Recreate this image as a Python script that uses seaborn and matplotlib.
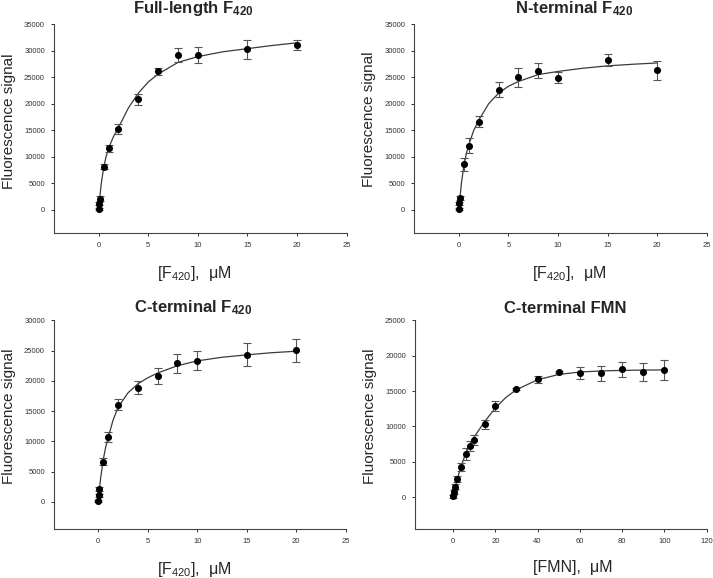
import numpy as np
import pandas as pd
import matplotlib
matplotlib.use("Agg")
import matplotlib.pyplot as plt
import seaborn as sns

# data
x_f420 = [0, 0.05, 0.1, 0.5, 1, 2, 4, 6, 8, 10, 15, 20]

full_y = [130, 1100, 2100, 8100, 11600, 15200, 20800, 26100, 29150, 29150, 30300, 31100]
full_err = [200, 300, 500, 500, 700, 900, 1000, 600, 1300, 1500, 1800, 1000]

nterm_y = [130, 1200, 2200, 8550, 12050, 16600, 22650, 25000, 26250, 24950, 28300, 26300]
nterm_err = [200, 300, 400, 1200, 1400, 1050, 1450, 1750, 1400, 950, 1100, 1850]

cterm_y = [110, 1050, 2150, 6650, 10700, 16050, 18850, 20850, 22950, 23350, 24350, 25050]
cterm_err = [150, 250, 300, 600, 770, 880, 1100, 1350, 1570, 1520, 1870, 1850]

x_fmn = [0, 0.5, 1, 2, 4, 6, 8, 10, 15, 20, 30, 40, 50, 60, 70, 80, 90, 100]
fmn_y = [100, 700, 1500, 2600, 4300, 6100, 7200, 8100, 10300, 12850, 15300, 16650,
         17700, 17550, 17500, 18100, 17700, 17950]
fmn_err = [150, 300, 350, 400, 600, 850, 700, 700, 600, 700, 200, 500,
           200, 800, 1080, 1060, 1220, 1410]

# fitted curves
fit_x_f420 = [0, 0.1, 0.25, 0.5, 0.75, 1, 1.5, 2, 3, 4, 5, 6, 8, 10, 12.5, 15, 17.5, 20]
full_fit = [0, 1900, 4700, 7900, 10000, 11600, 13800, 15500, 19200, 22000, 24100, 25600,
            27800, 28900, 29800, 30400, 31000, 31500]
nterm_fit = [0, 2100, 5000, 8300, 10600, 12300, 15000, 16900, 20000, 22000, 23300, 24200,
             25500, 26100, 26700, 27150, 27450, 27700]
cterm_fit = [0, 1800, 4000, 6900, 9000, 10600, 13500, 15600, 18000, 19500, 20500, 21300,
             22500, 23300, 23900, 24300, 24650, 24900]
fit_x_fmn = [0, 1, 2, 4, 6, 8, 10, 15, 20, 25, 30, 40, 50, 60, 70, 80, 90, 100]
fmn_fit = [0, 1350, 2600, 4500, 6200, 7400, 8500, 10700, 12600, 14100, 15200, 16600,
           17350, 17700, 17850, 17930, 17970, 18000]

sns.set_style("ticks")
plt.rcParams["font.family"] = ["Liberation Sans", "DejaVu Sans"]
plt.rcParams["mathtext.default"] = "regular"

fig = plt.figure(figsize=(7.13, 5.78), dpi=100)

panels = [
    # title, x, y, err, fit x, fit y, xlabel, rect, xlim, ylim, xticks, yticks, title pos, xlabel x, ylabel y
    ("Full-length F$_{420}$", x_f420, full_y, full_err, fit_x_f420, full_fit,
     "[F$_{420}$],  \u03bcM", [0.0757, 0.5969, 0.4105, 0.3611], (-4.5, 25), (-4400, 35000),
     np.arange(0, 26, 5), np.arange(0, 35001, 5000), (0.478, 8), 0.481, 0.537),
    ("N-terminal F$_{420}$", x_f420, nterm_y, nterm_err, fit_x_f420, nterm_fit,
     "[F$_{420}$],  \u03bcM", [0.5811, 0.5969, 0.4101, 0.3611], (-4.5, 25), (-4400, 35000),
     np.arange(0, 26, 5), np.arange(0, 35001, 5000), (0.547, 8), 0.529, 0.545),
    ("C-terminal F$_{420}$", x_f420, cterm_y, cterm_err, fit_x_f420, cterm_fit,
     "[F$_{420}$],  \u03bcM", [0.0757, 0.0848, 0.4091, 0.3609], (-4.47, 25), (-4500, 30000),
     np.arange(0, 26, 5), np.arange(0, 30001, 5000), (0.477, 5.5), 0.482, 0.54),
    ("C-terminal FMN", x_fmn, fmn_y, fmn_err, fit_x_fmn, fmn_fit,
     "[FMN],  \u03bcM", [0.582, 0.0848, 0.4091, 0.3609], (-18, 120), (-4500, 25000),
     np.arange(0, 121, 20), np.arange(0, 25001, 5000), (0.514, 5.5), 0.542, 0.54),
]

for (title, xs, ys, errs, fx, fy, xlabel, rect, xlim, ylim, xticks, yticks,
     tpos, xlab_x, ylab_y) in panels:
    ax = fig.add_axes(rect)
    pts = pd.DataFrame({"conc": xs, "signal": ys, "err": errs})
    fit = pd.DataFrame({"conc": fx, "signal": fy})

    sns.lineplot(data=fit, x="conc", y="signal", ax=ax, color="#3a3a3a",
                 linewidth=0.9, estimator=None, sort=False)
    ax.errorbar(pts["conc"], pts["signal"], yerr=pts["err"], fmt="none",
                ecolor="#555555", elinewidth=0.8, capsize=2.6, capthick=0.8)
    sns.scatterplot(data=pts, x="conc", y="signal", ax=ax, color="black",
                    s=26, edgecolor="black", linewidth=0, zorder=3)

    ax.set_xlim(*xlim)
    ax.set_ylim(*ylim)
    ax.set_xticks(xticks)
    ax.set_yticks(yticks)
    ax.tick_params(labelsize=5.5, length=2.5, width=0.7, colors="#333333", pad=4)
    for side in ["left", "bottom"]:
        ax.spines[side].set_color("#444444")
        ax.spines[side].set_linewidth(0.8)
    ax.spines["left"].set_bounds(ylim[0], yticks[-1])
    sns.despine(ax=ax)

    ax.set_title(title, fontsize=12, fontweight="bold", x=tpos[0], pad=tpos[1])
    ax.set_xlabel(xlabel, fontsize=11.5)
    ax.xaxis.set_label_coords(xlab_x, -0.149)
    ax.set_ylabel("Fluorescence signal", fontsize=11)
    ax.yaxis.set_label_coords(-0.131, ylab_y)

fig.savefig("out.png", dpi=100)
